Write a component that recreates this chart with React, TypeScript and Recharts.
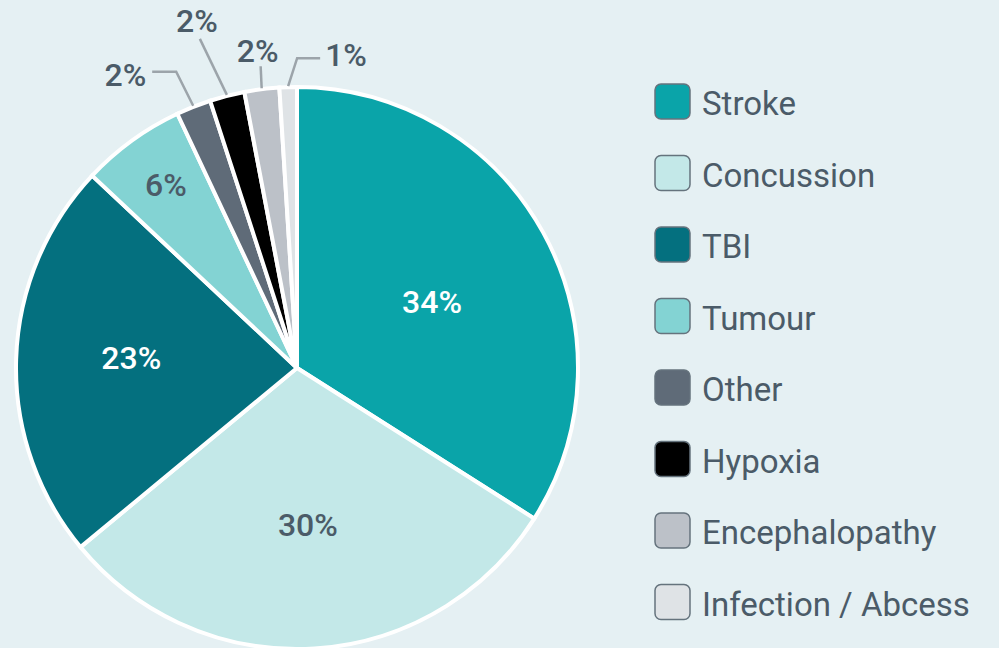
import React from 'react';
import { PieChart, Pie, Cell, Legend } from 'recharts';

const categories = ['Stroke', 'Concussion', 'TBI', 'Tumour', 'Other', 'Hypoxia', 'Encephalopathy', 'Infection / Abcess'];
const values = [34, 30, 23, 6, 2, 2, 2, 1];
const colors = ['#0aa4a9', '#c3e8e8', '#04707f', '#83d3d3', '#5f6b78', '#000000', '#bcc1c8', '#dfe3e6'];
const labelColors = ['#ffffff', '#4b5b68', '#ffffff', '#4b5b68', '#4b5b68', '#4b5b68', '#4b5b68', '#4b5b68'];

const data = categories.map((name, i) => ({ name, value: values[i] }));

const TEXT = '#4b5b68';
const FONT = 'Roboto, "Noto Sans", sans-serif';
const RADIAN = Math.PI / 180;

type Layout =
  | { type: 'in'; r: number; ox: number; oy: number }
  | { type: 'out'; dx: number; dy: number; h: number; tx: number; ty: number; anchor: 'start' | 'middle' | 'end' };

const labelLayout: Layout[] = [
  { type: 'in', r: 0.53, ox: 4.5, oy: 5 },
  { type: 'in', r: 0.56, ox: 1, oy: 0 },
  { type: 'in', r: 0.59, ox: 0, oy: -5 },
  { type: 'in', r: 0.8, ox: 1, oy: -1 },
  { type: 'out', dx: -17, dy: -34, h: -24, tx: -6, ty: 3, anchor: 'end' },
  { type: 'out', dx: -27, dy: -56, h: 0, tx: -3, ty: -18, anchor: 'middle' },
  { type: 'out', dx: -1, dy: -22, h: 0, tx: -3, ty: -16, anchor: 'middle' },
  { type: 'out', dx: 9, dy: -28, h: 23, tx: 5, ty: -3, anchor: 'start' },
];

const renderLabel = (props: any) => {
  const { cx, cy, midAngle, outerRadius, index, value } = props;
  const layout = labelLayout[index];
  const cos = Math.cos(-midAngle * RADIAN);
  const sin = Math.sin(-midAngle * RADIAN);
  const fs = 32;
  const text = `${value}%`;
  if (layout.type === 'in') {
    const r = outerRadius * layout.r;
    const x = cx + r * cos + layout.ox;
    const y = cy + r * sin + layout.oy;
    return (
      <text x={x} y={y + fs * 0.355} textAnchor="middle" fill={labelColors[index]} fontSize={fs} fontWeight={500} fontFamily={FONT}>
        {text}
      </text>
    );
  }
  const sx = cx + (outerRadius + 1) * cos;
  const sy = cy + (outerRadius + 1) * sin;
  const ex = sx + layout.dx;
  const ey = sy + layout.dy;
  const fx = ex + layout.h;
  const tx = fx + layout.tx;
  const ty = ey + layout.ty;
  return (
    <g>
      <polyline points={`${sx},${sy} ${ex},${ey} ${fx},${ey}`} fill="none" stroke="#9ca4aa" strokeWidth={2.5} />
      <text x={tx} y={ty + fs * 0.355} textAnchor={layout.anchor} fill={labelColors[index]} fontSize={fs} fontWeight={500} fontFamily={FONT}>
        {text}
      </text>
    </g>
  );
};

const renderLegend = () => (
  <svg width={345} height={560} style={{ display: 'block' }}>
    {categories.map((name, i) => (
      <g key={name}>
        <rect x={2} y={2 + i * 71.5} width={35} height={35} rx={6} ry={6} fill={colors[i]} stroke="#65737d" strokeWidth={1.5} />
        <text x={49} y={2 + i * 71.5 + 31} fill={TEXT} fontSize={33} fontFamily={FONT}>
          {name}
        </text>
      </g>
    ))}
  </svg>
);

export default function App() {
  return (
    <div style={{ position: 'absolute', left: 0, top: 0, width: 999, height: 648, background: '#e5f0f3', overflow: 'hidden' }}>
      <PieChart width={999} height={648} margin={{ top: 0, right: 0, bottom: 0, left: 0 }}>
        <Pie
          data={data}
          dataKey="value"
          nameKey="name"
          cx={297}
          cy={368}
          outerRadius={281}
          startAngle={90}
          endAngle={-270}
          stroke="#ffffff"
          strokeWidth={4}
          label={renderLabel}
          labelLine={false}
          isAnimationActive={false}
        >
          {data.map((d, i) => (
            <Cell key={d.name} fill={colors[i]} />
          ))}
        </Pie>
        <Legend
          layout="vertical"
          align="right"
          verticalAlign="top"
          content={renderLegend}
          wrapperStyle={{ position: 'absolute', left: 653, top: 82, width: 345, height: 560 }}
        />
      </PieChart>
    </div>
  );
}
